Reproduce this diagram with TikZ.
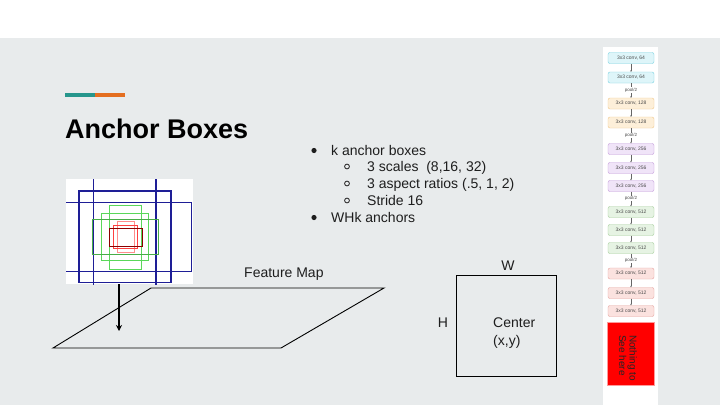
\documentclass[tikz,border=0pt]{standalone}
\usepackage{fontspec}
\setmainfont{Liberation Sans}
\usetikzlibrary{arrows.meta}
\definecolor{bg}{RGB}{232,235,236}
\definecolor{txt}{RGB}{30,30,30}
\definecolor{teal}{RGB}{38,150,140}
\definecolor{orng}{RGB}{228,110,32}
\definecolor{navy}{RGB}{30,30,150}
\definecolor{grn}{RGB}{90,215,90}
\definecolor{cyf}{RGB}{222,245,249}\definecolor{cyd}{RGB}{120,210,225}
\definecolor{pef}{RGB}{253,239,217}\definecolor{ped}{RGB}{240,200,140}
\definecolor{puf}{RGB}{240,228,248}\definecolor{pud}{RGB}{195,155,218}
\definecolor{gnf}{RGB}{230,243,227}\definecolor{gnd}{RGB}{165,205,155}
\definecolor{pkf}{RGB}{251,226,223}\definecolor{pkd}{RGB}{230,165,160}
\begin{document}
\begin{tikzpicture}[x=1pt,y=-1pt,
  body/.style={font=\fontsize{14}{16}\selectfont, text=txt, inner sep=0pt},
  conv/.style={draw, rounded corners=2pt, minimum width=46pt, minimum height=11pt, inner sep=0pt, font=\fontsize{5}{6}\selectfont, text=black!70},
  poolt/.style={font=\fontsize{4.5}{5}\selectfont, text=black!70, inner sep=0.5pt, fill=white},
  tiny/.style={-{Stealth[length=1.5pt,width=1.5pt]}, line width=0.3pt, black!60},
  bul/.style={fill=txt, draw=none},
  sbul/.style={draw=txt, line width=0.8pt}]
\useasboundingbox (0,0) rectangle (720,405);
\fill[bg] (0,38) rectangle (720,405);
% accent bar
\fill[teal] (65,93) rectangle (95,97);
\fill[orng] (95,93) rectangle (125,97);
% title
\node[anchor=base west, inner sep=0pt, font=\fontsize{27}{30}\selectfont\bfseries] (title) at (65,138) {Anchor Boxes};
% bullets
\fill[bul] (314,150.5) circle (2.6);
\node[body, anchor=base west] (b1) at (331,155) {k anchor boxes};
\draw[sbul] (347,166.5) circle (2.4);
\node[body, anchor=base west] (b2) at (367,171) {3 scales\ \ (8,16, 32)};
\draw[sbul] (347,183.5) circle (2.4);
\node[body, anchor=base west] (b3) at (367,188) {3 aspect ratios (.5, 1, 2)};
\draw[sbul] (347,200.5) circle (2.4);
\node[body, anchor=base west] (b4) at (367,205) {Stride 16};
\fill[bul] (314,217.5) circle (2.6);
\node[body, anchor=base west] (b5) at (331,222) {WHk anchors};
% anchor image
\node[fill=white, draw=none, minimum width=127pt, minimum height=105pt, inner sep=0pt] (img) at (129.5,231.5) {};
\begin{scope}
\clip (66,179) rectangle (193,284);
\draw[navy, line width=1.2pt] (93.5,170) -- (93.5,290);
\draw[navy, line width=1.2pt] (156,170) -- (156,290);
\draw[navy, line width=1.2pt] (79,191) rectangle (171,282.5);
\draw[navy, line width=1.2pt] (60,202.5) rectangle (191.5,271.5);
\draw[grn, line width=1pt] (109.5,205) rectangle (141,269);
\draw[grn, line width=1pt] (101.5,213.5) rectangle (148.5,260.5);
\draw[grn!80!black, line width=1pt] (92.5,219.5) rectangle (158,254.5);
\draw[red!45, line width=1pt] (117.5,221) rectangle (134.5,252.5);
\draw[red!75, line width=1pt] (113,225.5) rectangle (137,248.5);
\draw[red!55!black, line width=1pt] (109,228.5) rectangle (142,246);
\end{scope}
% arrow to feature map
\coordinate (atip) at (119,331);
\draw[line width=1.5pt, -{Stealth[length=6pt,width=6pt]}] (img.south -| atip) -- (atip);
% feature map
\draw[line width=0.9pt] (53,348) -- (151,288) -- (384,288) -- (281,348) -- cycle;
\node[body, anchor=base west] (fm) at (244,277) {Feature Map};
% anchor square
\node[draw, line width=0.9pt, minimum width=100pt, minimum height=101pt, inner sep=0pt] (sq) at (506,325.5) {};
\node[body, anchor=base] (w) at (508,270) {W};
\node[body, anchor=base] (h) at (443,327) {H};
\node[body, anchor=base west, align=left] (c1) at (493,327) {Center};
\node[body, anchor=base west] (c2) at (493,345) {(x,y)};
% VGG column
\fill[white] (603,47) rectangle (658,405);
\node[conv, fill=cyf, draw=cyd] (v1) at (631,58) {3x3 conv, 64};
\node[conv, fill=cyf, draw=cyd] (v2) at (631,77.5) {3x3 conv, 64};
\node[conv, fill=pef, draw=ped] (v3) at (631,103.5) {3x3 conv, 128};
\node[conv, fill=pef, draw=ped] (v4) at (631,122.5) {3x3 conv, 128};
\node[conv, fill=puf, draw=pud] (v5) at (631,149) {3x3 conv, 256};
\node[conv, fill=puf, draw=pud] (v6) at (631,168) {3x3 conv, 256};
\node[conv, fill=puf, draw=pud] (v7) at (631,186) {3x3 conv, 256};
\node[conv, fill=gnf, draw=gnd] (v8) at (631,212) {3x3 conv, 512};
\node[conv, fill=gnf, draw=gnd] (v9) at (631,230) {3x3 conv, 512};
\node[conv, fill=gnf, draw=gnd] (v10) at (631,248) {3x3 conv, 512};
\node[conv, fill=pkf, draw=pkd] (v11) at (631,273.5) {3x3 conv, 512};
\node[conv, fill=pkf, draw=pkd] (v12) at (631,293) {3x3 conv, 512};
\node[conv, fill=pkf, draw=pkd] (v13) at (631,311) {3x3 conv, 512};
\foreach \a/\b in {v1/v2,v2/v3,v3/v4,v4/v5,v5/v6,v6/v7,v7/v8,v8/v9,v9/v10,v10/v11,v11/v12,v12/v13}
  \draw[tiny] (\a.south) -- (\b.north);
\node[poolt] (p1) at (631,90) {pool/2};
\node[poolt] (p2) at (631,135.5) {pool/2};
\node[poolt] (p3) at (631,198.5) {pool/2};
\node[poolt] (p4) at (631,260.5) {pool/2};
% red box
\node[fill=red, draw=red!40, line width=0.8pt, minimum width=47pt, minimum height=63pt, inner sep=0pt] (rb) at (630.5,353.5) {};
\node[rotate=-90, anchor=west, align=left, inner sep=0pt, font=\fontsize{10}{10.5}\selectfont, text=black!85] (rt) at (628,335) {Nothing to\\See here};
\end{tikzpicture}
\end{document}
